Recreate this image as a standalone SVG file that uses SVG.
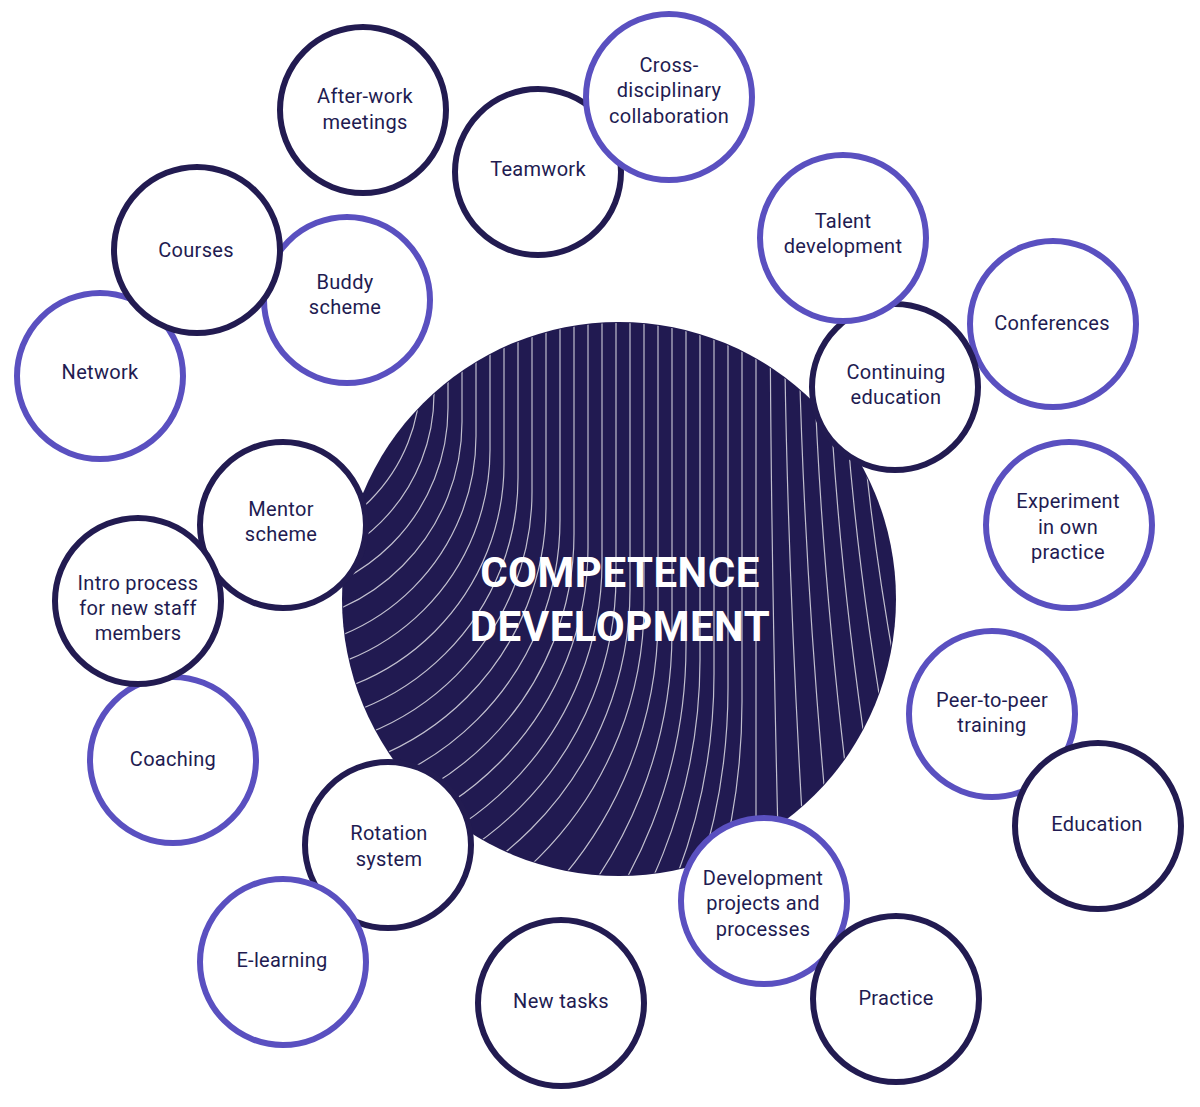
<svg xmlns="http://www.w3.org/2000/svg" width="1200" height="1107" viewBox="0 0 1200 1107">
<style>
.n circle{fill:#ffffff;stroke-width:6}
.d circle{stroke:#221b51}
.p circle{stroke:#5a50c0}
.n text{font-family:Roboto,"Liberation Sans",sans-serif;font-size:20px;fill:#221b51;text-anchor:middle;letter-spacing:0.3px}
.title{font-family:Roboto,"Liberation Sans",sans-serif;font-weight:700;font-size:42px;fill:#ffffff;text-anchor:middle;letter-spacing:0.5px}
.waves path{fill:none;stroke:#ffffff;stroke-width:1.2;stroke-opacity:0.72}
</style>
<defs>
<clipPath id="bigclip"><circle cx="619" cy="599" r="276"/></clipPath>
</defs>
<rect width="1200" height="1107" fill="#ffffff"/>
<g id="competence-development">
<circle cx="619" cy="599" r="277" fill="#211a51"/>
<g class="waves" clip-path="url(#bigclip)">
<path d="M420,250 L420,380 A170,170 0 0 1 250,550"/>
<path d="M434,250 L434,394 A181.2,181.2 0 0 1 252.8,575.2"/>
<path d="M448,250 L448,408 A192.4,192.4 0 0 1 255.6,600.4"/>
<path d="M462,250 L462,422 A203.6,203.6 0 0 1 258.4,625.6"/>
<path d="M476,250 L476,436 A214.8,214.8 0 0 1 261.2,650.8"/>
<path d="M490,250 L490,450 A226,226 0 0 1 264,676"/>
<path d="M504,250 L504,464 A237.2,237.2 0 0 1 266.8,701.2"/>
<path d="M518,250 L518,478 A248.4,248.4 0 0 1 269.6,726.4"/>
<path d="M532,250 L532,492 A259.6,259.6 0 0 1 272.4,751.6"/>
<path d="M546,250 L546,506 A270.8,270.8 0 0 1 275.2,776.8"/>
<path d="M560,250 L560,520 A282,282 0 0 1 278,802"/>
<path d="M574,250 L574,534 A293.2,293.2 0 0 1 280.8,827.2"/>
<path d="M588,250 L588,548 A304.4,304.4 0 0 1 283.6,852.4"/>
<path d="M602,250 L602,562 A315.6,315.6 0 0 1 286.4,877.6"/>
<path d="M616,250 L616,576 A326.8,326.8 0 0 1 289.2,902.8"/>
<path d="M630,250 L630,590 A338,338 0 0 1 292,928"/>
<path d="M644,250 L644,604 A358,358 0 0 1 286,962"/>
<path d="M658,250 L658,618 A400,400 0 0 1 258,1018"/>
<path d="M672,250 L672,632 A442,442 0 0 1 230,1074"/>
<path d="M686,250 L686,646 A484,484 0 0 1 202,1130"/>
<path d="M700,250 L700,660 A526,526 0 0 1 174,1186"/>
<path d="M714,250 L714,674 A568,568 0 0 1 146,1242"/>
<path d="M728,250 L728,688 A610,610 0 0 1 118,1298"/>
<path d="M742,250 L742,702 A652,652 0 0 1 90,1354"/>
<path d="M756,250 L756,950"/>
<path d="M770,250 Q770,550 781,950"/>
<path d="M784,250 Q784,550 810.4,950"/>
<path d="M798,250 Q798,550 839.8,950"/>
<path d="M812,250 Q812,550 869.2,950"/>
<path d="M826,250 Q826,550 898.6,950"/>
<path d="M840,250 Q840,550 928,950"/>
<path d="M854,250 Q854,550 957.4,950"/>
<path d="M868,250 Q868,550 986.8,950"/>
<path d="M882,250 Q882,550 1016.2,950"/>
<path d="M896,250 Q896,550 1045.6,950"/>
</g>
<text class="title" x="620" y="587">COMPETENCE</text>
<text class="title" x="620" y="641">DEVELOPMENT</text>
</g>
<g id="connectors"/>
<g id="network" class="n p"><circle cx="100" cy="376" r="83"/><text x="100" y="379">Network</text></g>
<g id="buddy-scheme" class="n p"><circle cx="347" cy="300" r="83"/><text x="345" y="289">Buddy</text><text x="345" y="314">scheme</text></g>
<g id="courses" class="n d"><circle cx="197" cy="250" r="83"/><text x="196" y="257">Courses</text></g>
<g id="after-work-meetings" class="n d"><circle cx="363" cy="110" r="83"/><text x="365" y="103">After-work</text><text x="365" y="129">meetings</text></g>
<g id="teamwork" class="n d"><circle cx="538" cy="172" r="83"/><text x="538" y="176">Teamwork</text></g>
<g id="cross-disciplinary-collaboration" class="n p"><circle cx="669" cy="97" r="83"/><text x="669" y="72">Cross-</text><text x="669" y="97">disciplinary</text><text x="669" y="123">collaboration</text></g>
<g id="conferences" class="n p"><circle cx="1053" cy="324" r="83"/><text x="1052" y="330">Conferences</text></g>
<g id="continuing-education" class="n d"><circle cx="895" cy="387" r="83"/><text x="896" y="379">Continuing</text><text x="896" y="404">education</text></g>
<g id="talent-development" class="n p"><circle cx="843" cy="238" r="83"/><text x="843" y="228">Talent</text><text x="843" y="253">development</text></g>
<g id="experiment-in-own-practice" class="n p"><circle cx="1069" cy="525" r="83"/><text x="1068" y="508">Experiment</text><text x="1068" y="534">in own</text><text x="1068" y="559">practice</text></g>
<g id="coaching" class="n p"><circle cx="173" cy="760" r="83"/><text x="173" y="766">Coaching</text></g>
<g id="mentor-scheme" class="n d"><circle cx="283" cy="525" r="83"/><text x="281" y="516">Mentor</text><text x="281" y="541">scheme</text></g>
<g id="intro-process" class="n d"><circle cx="138" cy="601" r="83"/><text x="138" y="590">Intro process</text><text x="138" y="615">for new staff</text><text x="138" y="640">members</text></g>
<g id="rotation-system" class="n d"><circle cx="388" cy="845" r="83"/><text x="389" y="840">Rotation</text><text x="389" y="866">system</text></g>
<g id="e-learning" class="n p"><circle cx="283" cy="962" r="83"/><text x="282" y="967">E-learning</text></g>
<g id="new-tasks" class="n d"><circle cx="561" cy="1003" r="83"/><text x="561" y="1008">New tasks</text></g>
<g id="peer-to-peer-training" class="n p"><circle cx="992" cy="714" r="83"/><text x="992" y="707">Peer-to-peer</text><text x="992" y="732">training</text></g>
<g id="education" class="n d"><circle cx="1098" cy="826" r="83"/><text x="1097" y="831">Education</text></g>
<g id="development-projects" class="n p"><circle cx="764" cy="901" r="83"/><text x="763" y="885">Development</text><text x="763" y="910">projects and</text><text x="763" y="936">processes</text></g>
<g id="practice" class="n d"><circle cx="896" cy="999" r="83"/><text x="896" y="1005">Practice</text></g>
</svg>
